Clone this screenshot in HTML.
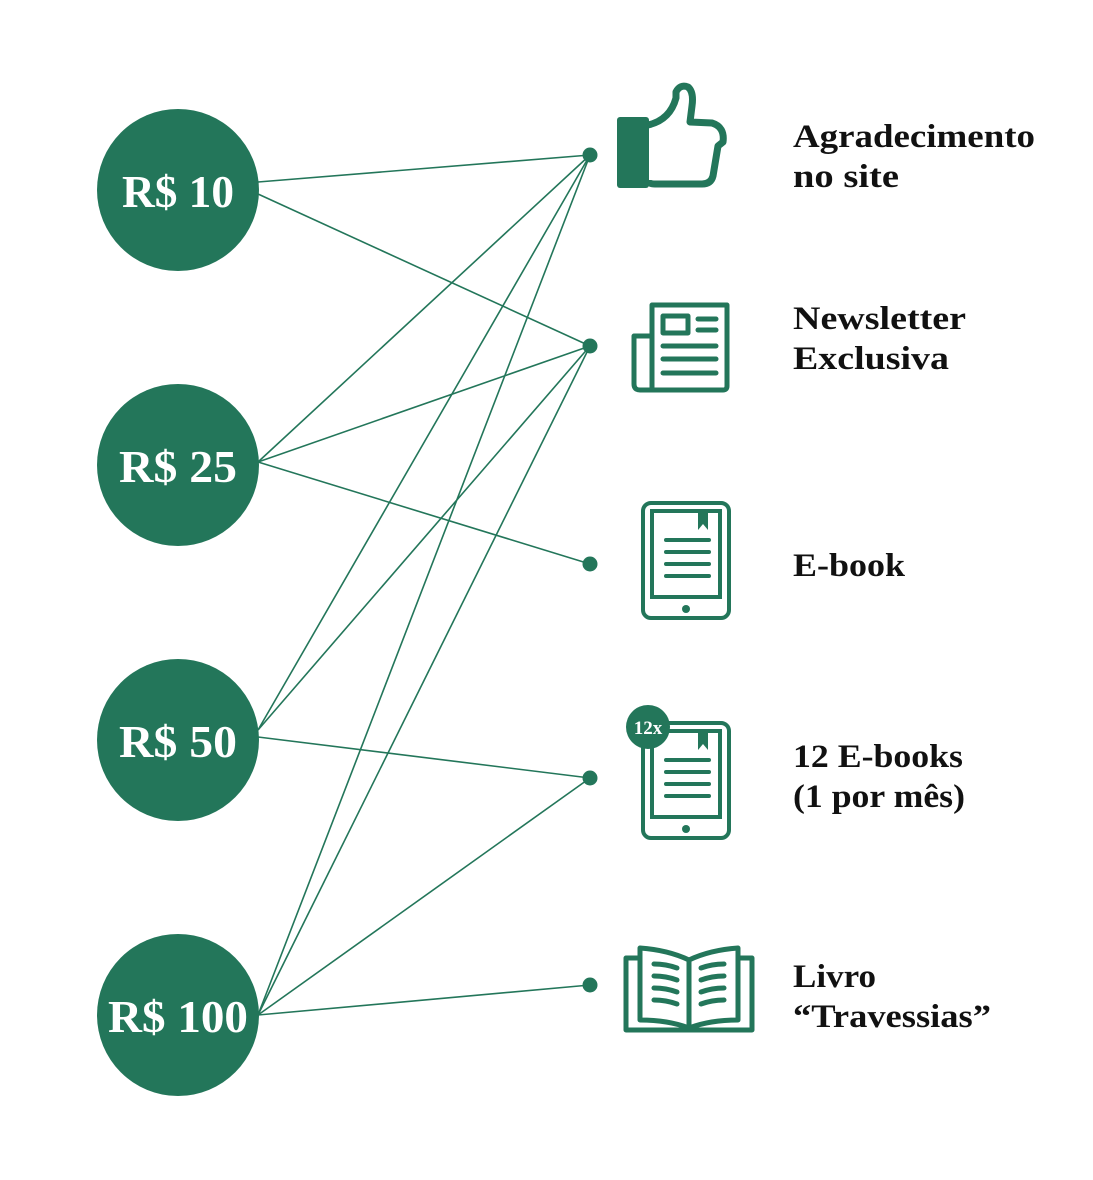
<!DOCTYPE html>
<html><head><meta charset="utf-8"><style>html,body{margin:0;padding:0;background:#fff}svg{display:block}</style></head>
<body>
<svg width="1093" height="1180" viewBox="0 0 1093 1180" xmlns="http://www.w3.org/2000/svg">
<g stroke="#23765a" stroke-width="1.6" fill="none">
<line x1="258" y1="182" x2="590" y2="155"/>
<line x1="258" y1="194" x2="590" y2="346"/>
<line x1="258" y1="462" x2="590" y2="155"/>
<line x1="258" y1="462" x2="590" y2="346"/>
<line x1="258" y1="462" x2="590" y2="564"/>
<line x1="258" y1="730" x2="590" y2="155"/>
<line x1="258" y1="730" x2="590" y2="346"/>
<line x1="258" y1="737" x2="590" y2="778"/>
<line x1="258" y1="1015" x2="590" y2="155"/>
<line x1="258" y1="1015" x2="590" y2="346"/>
<line x1="258" y1="1015" x2="590" y2="778"/>
<line x1="258" y1="1015" x2="590" y2="985"/>
</g>
<g fill="#23765a">
<circle cx="590" cy="155" r="7.5"/><circle cx="590" cy="346" r="7.5"/><circle cx="590" cy="564" r="7.5"/><circle cx="590" cy="778" r="7.5"/><circle cx="590" cy="985" r="7.5"/>
<circle cx="178" cy="190" r="81"/><circle cx="178" cy="465" r="81"/><circle cx="178" cy="740" r="81"/><circle cx="178" cy="1015" r="81"/>
</g>
<g fill="#fff" font-family="Liberation Serif, serif" font-weight="bold" font-size="46" text-anchor="middle">
<text x="178" y="207" textLength="112" lengthAdjust="spacingAndGlyphs">R$ 10</text>
<text x="178" y="482" textLength="118" lengthAdjust="spacingAndGlyphs">R$ 25</text>
<text x="178" y="757" textLength="118" lengthAdjust="spacingAndGlyphs">R$ 50</text>
<text x="178" y="1032" textLength="140" lengthAdjust="spacingAndGlyphs">R$ 100</text>
</g>
<g fill="#111" font-family="Liberation Serif, serif" font-weight="bold" font-size="33">
<text x="793" y="147" textLength="242" lengthAdjust="spacingAndGlyphs">Agradecimento</text>
<text x="793" y="187" textLength="106" lengthAdjust="spacingAndGlyphs">no site</text>
<text x="793" y="329" textLength="173" lengthAdjust="spacingAndGlyphs">Newsletter</text>
<text x="793" y="369" textLength="156" lengthAdjust="spacingAndGlyphs">Exclusiva</text>
<text x="793" y="576" textLength="112" lengthAdjust="spacingAndGlyphs">E-book</text>
<text x="793" y="767" textLength="170" lengthAdjust="spacingAndGlyphs">12 E-books</text>
<text x="793" y="807" textLength="172" lengthAdjust="spacingAndGlyphs">(1 por mês)</text>
<text x="793" y="987" textLength="83" lengthAdjust="spacingAndGlyphs">Livro</text>
<text x="793" y="1027" textLength="198" lengthAdjust="spacingAndGlyphs">“Travessias”</text>
</g>
<!-- thumb -->
<rect x="617" y="117" width="32" height="71" rx="3" fill="#23765a"/>
<path d="M648 125 Q670 120 676 98 L676 92 Q680 84 688 87 Q694 92 692 106 L690 122 L712 123 Q725 127 723 142 L718 146 L713 176 Q711 184 702 184 L655 184 Q648 184 648 180" fill="none" stroke="#23765a" stroke-width="7" stroke-linejoin="round"/>
<!-- newsletter -->
<g fill="none" stroke="#23765a" stroke-width="5" stroke-linecap="round" stroke-linejoin="round">
<path d="M652 388 L652 305 L727 305 L727 386 Q727 390 723 390 L640 390 Q634 390 634 384 L634 336 L652 336"/>
<rect x="663" y="316" width="25" height="17"/>
<line x1="698" y1="319" x2="716" y2="319"/><line x1="698" y1="330" x2="716" y2="330"/>
<line x1="663" y1="346" x2="716" y2="346"/><line x1="663" y1="359" x2="716" y2="359"/><line x1="663" y1="373" x2="716" y2="373"/>
</g>
<!-- ebook -->
<g id="eb" fill="none" stroke="#23765a" stroke-linecap="round">
<rect x="643" y="503" width="86" height="115" rx="8" stroke-width="4"/>
<rect x="652" y="511" width="68" height="86" stroke-width="4"/>
<path d="M698 511 L708 511 L708 530 L703 524 L698 530 Z" fill="#23765a" stroke="none"/>
<line x1="666" y1="540" x2="709" y2="540" stroke-width="4"/><line x1="666" y1="552" x2="709" y2="552" stroke-width="4"/><line x1="666" y1="564" x2="709" y2="564" stroke-width="4"/><line x1="666" y1="576" x2="709" y2="576" stroke-width="4"/>
<circle cx="686" cy="609" r="4" fill="#23765a" stroke="none"/>
</g>
<use href="#eb" y="220"/>
<circle cx="648" cy="727" r="22" fill="#23765a"/>
<text x="648" y="734" fill="#fff" font-family="Liberation Serif, serif" font-weight="bold" font-size="19" text-anchor="middle">12x</text>
<!-- book -->
<g fill="none" stroke="#23765a" stroke-width="5" stroke-linejoin="round" stroke-linecap="round">
<path d="M638 958 L626 958 L626 1030 L752 1030 L752 958 L740 958"/>
<path d="M640 948 Q668 950 689 960 Q710 950 738 948 L738 1020 Q710 1020 689 1028 Q668 1020 640 1020 Z"/>
<line x1="689" y1="960" x2="689" y2="1026"/>
<path d="M654 964 Q666 964 677 968 M654 976 Q666 976 677 980 M654 988 Q666 988 677 992 M654 1000 Q666 1000 677 1004"/>
<path d="M724 964 Q712 964 701 968 M724 976 Q712 976 701 980 M724 988 Q712 988 701 992 M724 1000 Q712 1000 701 1004"/>
</g>
</svg>
</body></html>
